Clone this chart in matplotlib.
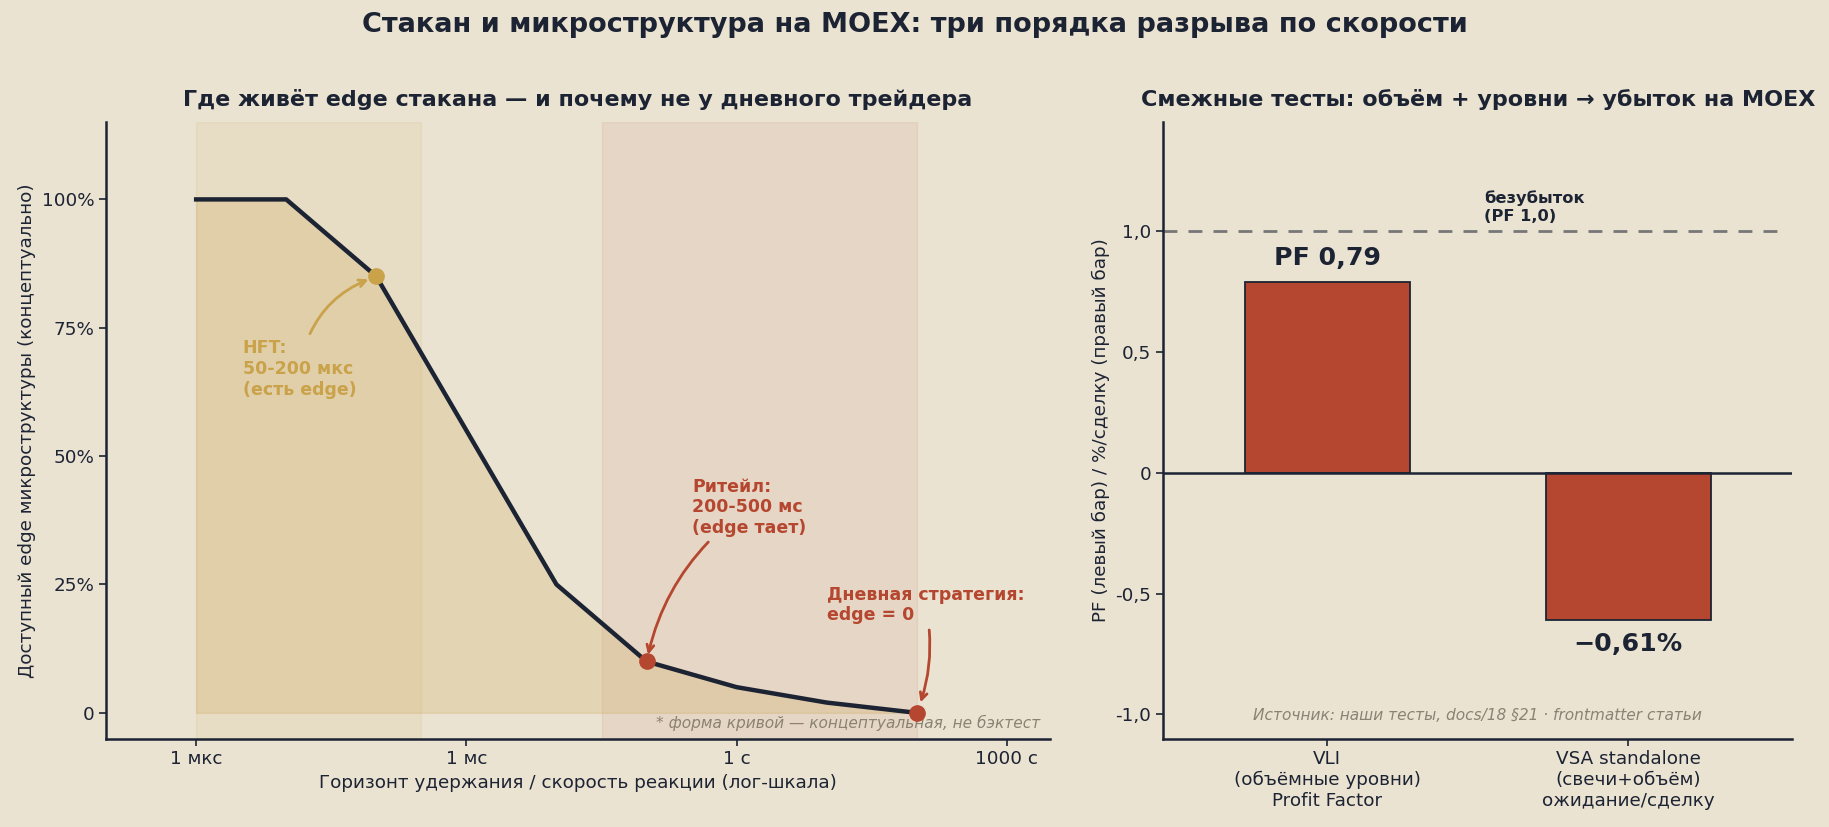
import numpy as np
import matplotlib
matplotlib.use('Agg')
import matplotlib.pyplot as plt

# --- data ---
horizon_s = [1e-6, 1e-5, 1e-4, 1e-2, 1e-1, 1, 10, 100]
edge_pct = [100, 100, 85, 25, 10, 5, 2, 0]

hft_pt = (1e-4, 85)
retail_pt = (1e-1, 10)
daily_pt = (100, 0)

x_ticks = [1e-6, 1e-3, 1, 1000]
x_tick_labels = ['1 мкс', '1 мс', '1 с', '1000 с']
y_ticks = [0, 25, 50, 75, 100]
y_tick_labels = ['0', '25%', '50%', '75%', '100%']

bar_labels = ['VLI\n(объёмные уровни)\nProfit Factor',
              'VSA standalone\n(свечи+объём)\nожидание/сделку']
bar_values = [0.79, -0.61]
bar_texts = ['PF 0,79', '−0,61%']
r_ticks = [1.0, 0.5, 0, -0.5, -1.0]
r_tick_labels = ['1,0', '0,5', '0', '-0,5', '-1,0']

BG = '#ebe3d2'
NAVY = '#1c2333'
GOLD = '#c9a24a'
RED = '#b5462f'
GRAY = '#8a8272'

plt.rcParams['font.family'] = ['DejaVu Sans']
plt.rcParams['text.color'] = NAVY
plt.rcParams['axes.labelcolor'] = NAVY
plt.rcParams['xtick.color'] = NAVY
plt.rcParams['ytick.color'] = NAVY

fig = plt.figure(figsize=(18.29, 8.27), dpi=100, facecolor=BG)
ax = fig.add_axes([0.058, 0.107, 0.516, 0.745], facecolor=BG)
ax2 = fig.add_axes([0.636, 0.107, 0.344, 0.745], facecolor=BG)

fig.suptitle('Стакан и микроструктура на MOEX: три порядка разрыва по скорости',
             fontsize=19.5, fontweight='bold', y=0.985, color=NAVY)

# --- left panel ---
ax.set_xscale('log')
ax.axvspan(1e-6, 10**-3.5, color=GOLD, alpha=0.10, zorder=0)
ax.axvspan(10**-1.5, 100, color=RED, alpha=0.08, zorder=0)
ax.fill_between(horizon_s, edge_pct, 0, color=GOLD, alpha=0.22, zorder=1)
ax.plot(horizon_s, edge_pct, color=NAVY, lw=3.2, zorder=3)
ax.plot(*hft_pt, 'o', color=GOLD, ms=11, zorder=4)
ax.plot(*retail_pt, 'o', color=RED, ms=11, zorder=4)
ax.plot(*daily_pt, 'o', color=RED, ms=11, zorder=4)

ax.annotate('HFT:\n50-200 мкс\n(есть edge)', xy=hft_pt, xytext=(3.3e-6, 67),
            fontsize=12.5, fontweight='bold', color=GOLD, ha='left', va='center',
            arrowprops=dict(arrowstyle='->', color=GOLD, lw=2,
                            connectionstyle='arc3,rad=-0.3', shrinkB=6))
ax.annotate('Ритейл:\n200-500 мс\n(edge тает)', xy=retail_pt, xytext=(0.32, 40),
            fontsize=12.5, fontweight='bold', color=RED, ha='left', va='center',
            arrowprops=dict(arrowstyle='->', color=RED, lw=2,
                            connectionstyle='arc3,rad=0.2', shrinkB=5))
ax.annotate('Дневная стратегия:\nedge = 0', xy=daily_pt, xytext=(10, 21),
            fontsize=12.5, fontweight='bold', color=RED, ha='left', va='center',
            arrowprops=dict(arrowstyle='->', color=RED, lw=2,
                            connectionstyle='arc3,rad=-0.15', shrinkB=8))

ax.text(0.99, 0.012, '* форма кривой — концептуальная, не бэктест',
        transform=ax.transAxes, ha='right', va='bottom', fontsize=11.1,
        style='italic', color=GRAY)

ax.set_xlim(1e-7, 3e3)
ax.set_ylim(-5, 115)
ax.set_xticks(x_ticks)
ax.set_xticklabels(x_tick_labels)
ax.minorticks_off()
ax.set_yticks(y_ticks)
ax.set_yticklabels(y_tick_labels)
ax.tick_params(labelsize=13.2, length=5, width=1.2)
ax.set_xlabel('Горизонт удержания / скорость реакции (лог-шкала)', fontsize=13.2)
ax.set_ylabel('Доступный edge микроструктуры (концептуально)', fontsize=13.2)
ax.set_title('Где живёт edge стакана — и почему не у дневного трейдера',
             fontsize=16, fontweight='bold', pad=12)

# --- right panel ---
xpos = np.arange(len(bar_values))
ax2.bar(xpos, bar_values, width=0.55, color=RED, edgecolor=NAVY, lw=1.3, zorder=3)
ax2.axhline(1.0, xmax=0.993, color='#777777', lw=2, ls=(0, (5, 4)), zorder=2)
ax2.axhline(0, color=NAVY, lw=1.8, zorder=4)
ax2.text(0.52, 1.03, 'безубыток\n(PF 1,0)', fontsize=11.7, fontweight='bold',
         ha='left', va='bottom')
ax2.text(xpos[0], bar_values[0] + 0.05, bar_texts[0], ha='center', va='bottom',
         fontsize=18.2, fontweight='bold')
ax2.text(xpos[1], bar_values[1] - 0.05, bar_texts[1], ha='center', va='top',
         fontsize=18.2, fontweight='bold')
ax2.text(0.5, 0.025, 'Источник: наши тесты, docs/18 §21 · frontmatter статьи',
         transform=ax2.transAxes, ha='center', va='bottom', fontsize=11.1,
         style='italic', color=GRAY)

ax2.set_xlim(-0.545, 1.545)
ax2.set_ylim(-1.1, 1.45)
ax2.set_xticks(xpos)
ax2.set_xticklabels(bar_labels)
ax2.set_yticks(r_ticks)
ax2.set_yticklabels(r_tick_labels)
ax2.tick_params(labelsize=13.2, length=5, width=1.2)
ax2.set_ylabel('PF (левый бар) / %/сделку (правый бар)', fontsize=13.2)
ax2.set_title('Смежные тесты: объём + уровни → убыток на MOEX',
              fontsize=16, fontweight='bold', pad=12)

for a in (ax, ax2):
    a.spines['top'].set_visible(False)
    a.spines['right'].set_visible(False)
    a.spines['left'].set_color(NAVY)
    a.spines['bottom'].set_color(NAVY)
    a.spines['left'].set_linewidth(1.8)
    a.spines['bottom'].set_linewidth(1.8)

fig.savefig('out.png', dpi=100, facecolor=BG)
